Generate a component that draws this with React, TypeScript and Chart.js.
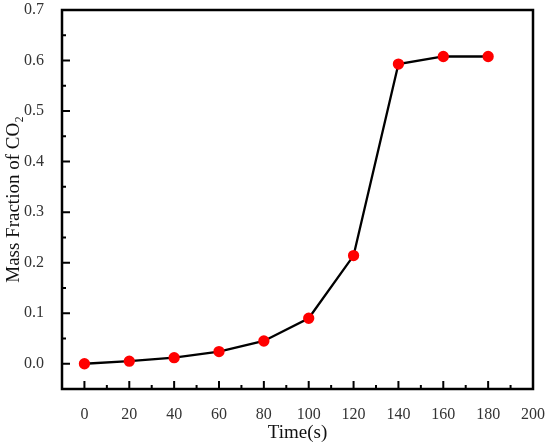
import React, { useEffect, useRef } from "react";
import { Chart, registerables } from "chart.js";

Chart.register(...registerables);

// time (s) and CO2 mass fraction
const times = [0, 20, 40, 60, 80, 100, 120, 140, 160, 180];
const massFraction = [0, 0.005, 0.012, 0.024, 0.045, 0.09, 0.214, 0.593, 0.608, 0.608];

const xTicks = [0, 20, 40, 60, 80, 100, 120, 140, 160, 180, 200];
const yTicks = [0, 0.1, 0.2, 0.3, 0.4, 0.5, 0.6, 0.7];

const serif = "'Liberation Serif', 'Times New Roman', serif";

// inward ticks + closed frame, like the Origin plot
const framePlugin = {
  id: "frame",
  afterDraw(chart: any) {
    const { ctx, chartArea } = chart;
    const x = chart.scales.x;
    const y = chart.scales.y;
    ctx.save();
    ctx.strokeStyle = "#000";
    ctx.lineWidth = 2;
    ctx.beginPath();
    xTicks.forEach((v, i) => {
      const px = x.getPixelForValue(v);
      ctx.moveTo(px, chartArea.bottom);
      ctx.lineTo(px, chartArea.bottom - 8);
      if (i < xTicks.length - 1) {
        const mid = x.getPixelForValue((v + xTicks[i + 1]) / 2);
        ctx.moveTo(mid, chartArea.bottom);
        ctx.lineTo(mid, chartArea.bottom - 4);
      }
    });
    yTicks.forEach((v, i) => {
      const py = y.getPixelForValue(v);
      ctx.moveTo(chartArea.left, py);
      ctx.lineTo(chartArea.left + 8, py);
      if (i < yTicks.length - 1) {
        const mid = y.getPixelForValue((v + yTicks[i + 1]) / 2);
        ctx.moveTo(chartArea.left, mid);
        ctx.lineTo(chartArea.left + 4, mid);
      }
    });
    ctx.stroke();
    ctx.lineWidth = 2.5;
    ctx.strokeRect(
      chartArea.left,
      chartArea.top,
      chartArea.right - chartArea.left,
      chartArea.bottom - chartArea.top
    );
    ctx.restore();
  },
};

export default function App() {
  const canvasEl = useRef<HTMLCanvasElement>(null);

  useEffect(() => {
    if (!canvasEl.current) return;
    const ctx = canvasEl.current.getContext("2d");
    if (!ctx) return;

    const chart = new Chart(ctx, {
      type: "line",
      data: {
        datasets: [
          {
            data: times.map((t, i) => ({ x: t, y: massFraction[i] })),
            borderColor: "#000",
            borderWidth: 2.3,
            backgroundColor: "#ff0000",
            pointBackgroundColor: "#ff0000",
            pointBorderColor: "#ff0000",
            pointRadius: 4.5,
            tension: 0,
          },
        ],
      },
      options: {
        animation: false,
        responsive: true,
        maintainAspectRatio: false,
        layout: { padding: { top: 10, right: 17, left: 0, bottom: 0 } },
        plugins: {
          legend: { display: false },
          tooltip: { enabled: false },
        },
        scales: {
          x: {
            type: "linear",
            min: -10,
            max: 200,
            grid: { display: false },
            border: { display: false },
            afterBuildTicks: (scale: any) => {
              scale.ticks = xTicks.map((v) => ({ value: v }));
            },
            afterFit: (scale: any) => {
              scale.height = 58;
              scale.paddingLeft = 0;
              scale.paddingRight = 0;
            },
            ticks: {
              padding: 8,
              color: "#333",
              font: { family: serif, size: 16 },
              callback: (v: any) => String(v),
            },
            title: {
              display: true,
              text: "Time(s)",
              color: "#111",
              font: { family: serif, size: 19 },
              padding: { top: 0, bottom: 3 },
            },
          },
          y: {
            type: "linear",
            min: -0.05,
            max: 0.7,
            grid: { display: false },
            border: { display: false },
            afterBuildTicks: (scale: any) => {
              scale.ticks = yTicks.map((v) => ({ value: v }));
            },
            afterFit: (scale: any) => {
              scale.width = 62;
              scale.paddingTop = 0;
              scale.paddingBottom = 0;
            },
            ticks: {
              padding: 10,
              color: "#333",
              font: { family: serif, size: 16 },
              callback: (v: any) => Number(v).toFixed(1),
            },
            title: {
              display: true,
              text: "Mass Fraction of CO\u2082",
              color: "#111",
              font: { family: serif, size: 19 },
              padding: { top: 3, bottom: 0 },
            },
          },
        },
      },
      plugins: [framePlugin],
    });

    return () => {
      chart.destroy();
    };
  }, []);

  return (
    <div style={{ position: "fixed", left: 0, top: 0, width: 550, height: 447 }}>
      <canvas ref={canvasEl} />
    </div>
  );
}
